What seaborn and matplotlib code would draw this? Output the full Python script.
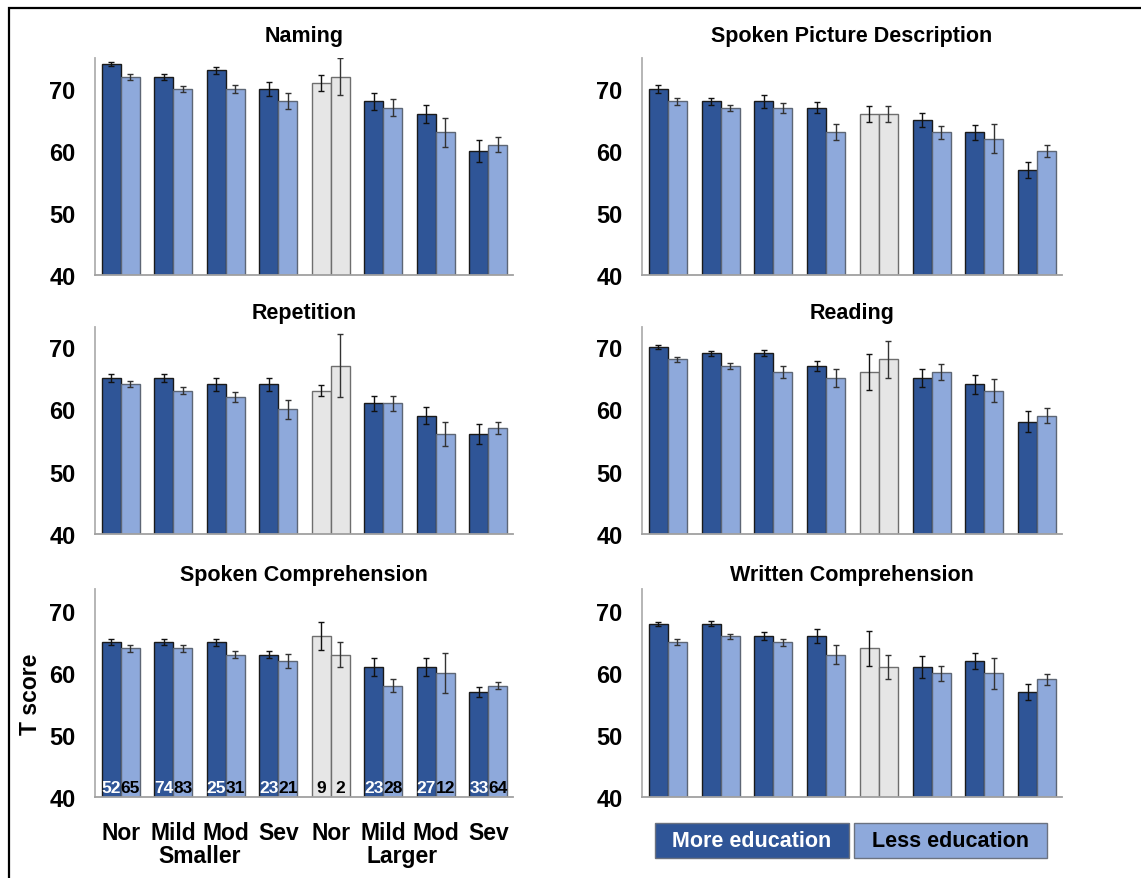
import numpy as np
import pandas as pd
import matplotlib
matplotlib.use("Agg")
import matplotlib.pyplot as plt
from matplotlib.patches import Rectangle
import matplotlib.transforms as mtransforms
import seaborn as sns

# ---- data -------------------------------------------------------------
severity = ["Nor", "Mild", "Mod", "Sev"]
lesion_size = ["Smaller", "Larger"]
education = ["More education", "Less education"]

n_more = [52, 74, 25, 23, 9, 23, 27, 33]
n_less = [65, 83, 31, 21, 2, 28, 12, 64]

naming_more = [74, 72, 73, 70, 71, 68, 66, 60]
naming_less = [72, 70, 70, 68, 72, 67, 63, 61]
naming_more_se = [0.3, 0.5, 0.5, 1.1, 1.3, 1.4, 1.5, 1.7]
naming_less_se = [0.5, 0.5, 0.6, 1.3, 3.0, 1.4, 2.3, 1.2]

spd_more = [70, 68, 68, 67, 66, 65, 63, 57]
spd_less = [68, 67, 67, 63, 66, 63, 62, 60]
spd_more_se = [0.6, 0.6, 1.1, 0.9, 1.3, 1.2, 1.2, 1.3]
spd_less_se = [0.5, 0.5, 0.8, 1.3, 1.3, 1.1, 2.4, 1.0]

rep_more = [65, 65, 64, 64, 63, 61, 59, 56]
rep_less = [64, 63, 62, 60, 67, 61, 56, 57]
rep_more_se = [0.6, 0.6, 1.1, 1.1, 0.9, 1.2, 1.3, 1.6]
rep_less_se = [0.5, 0.5, 0.8, 1.5, 5.0, 1.2, 1.9, 1.0]

read_more = [70, 69, 69, 67, 66, 65, 64, 58]
read_less = [68, 67, 66, 65, 68, 66, 63, 59]
read_more_se = [0.3, 0.4, 0.5, 0.8, 2.9, 1.5, 1.5, 1.7]
read_less_se = [0.4, 0.5, 0.9, 1.5, 3.0, 1.3, 1.8, 1.2]

sc_more = [65, 65, 65, 63, 66, 61, 61, 57]
sc_less = [64, 64, 63, 62, 63, 58, 60, 58]
sc_more_se = [0.5, 0.5, 0.6, 0.6, 2.2, 1.4, 1.5, 0.8]
sc_less_se = [0.5, 0.5, 0.6, 1.1, 2.0, 1.0, 3.2, 0.6]

wc_more = [68, 68, 66, 66, 64, 61, 62, 57]
wc_less = [65, 66, 65, 63, 61, 60, 60, 59]
wc_more_se = [0.3, 0.4, 0.6, 1.1, 2.8, 1.7, 1.3, 1.3]
wc_less_se = [0.5, 0.4, 0.6, 1.5, 2.0, 1.2, 2.5, 0.9]

panels = [
    ("Naming", naming_more, naming_less, naming_more_se, naming_less_se),
    ("Spoken Picture Description", spd_more, spd_less, spd_more_se, spd_less_se),
    ("Repetition", rep_more, rep_less, rep_more_se, rep_less_se),
    ("Reading", read_more, read_less, read_more_se, read_less_se),
    ("Spoken Comprehension", sc_more, sc_less, sc_more_se, sc_less_se),
    ("Written Comprehension", wc_more, wc_less, wc_more_se, wc_less_se),
]

# ---- style ------------------------------------------------------------
DARK = "#2F5597"
LIGHT = "#8EA9DB"
GREY = "#E6E6E6"
sns.set_style("white")
plt.rcParams["font.family"] = ["Liberation Sans", "DejaVu Sans"]
plt.rcParams["font.weight"] = "bold"
for key in ["text.color", "axes.labelcolor", "xtick.color", "ytick.color",
            "axes.titlecolor"]:
    plt.rcParams[key] = "black"

groups = [f"{s} {v}" for s in lesion_size for v in severity]
tick_names = [v for s in lesion_size for v in severity]
control_idx = groups.index("Larger Nor")

fig = plt.figure(figsize=(11.41, 8.79), dpi=100)

W, H = 1141, 879
col_x = [(95, 513), (642, 1062)]
row_y = [(59, 276), (328, 535), (590, 798)]
row_top = [75, 73.2, 73.6]
title_pad = [12, 6.5, 6.5]

for i, (title, more, less, more_se, less_se) in enumerate(panels):
    r, c = divmod(i, 2)
    x0, x1 = col_x[c]
    y0, y1 = row_y[r]
    ax = fig.add_axes([x0 / W, 1 - y1 / H, (x1 - x0) / W, (y1 - y0) / H])

    df = pd.DataFrame({
        "group": groups * 2,
        "education": [education[0]] * 8 + [education[1]] * 8,
        "score": list(more) + list(less),
    })
    sns.barplot(data=df, x="group", y="score", hue="education",
                order=groups, hue_order=education,
                palette=[DARK, LIGHT], width=0.72, gap=0,
                errorbar=None, legend=False, ax=ax,
                edgecolor="#1a1a1a", linewidth=1.0, saturation=1)

    edge_cols = ["#1a1a1a", "#5d6675"]
    err_cols = ["#111111", "#333333"]
    for k, (cont, se) in enumerate(zip(ax.containers, [more_se, less_se])):
        xs, ys = [], []
        for j, p in enumerate(cont.patches):
            p.set_edgecolor(edge_cols[k])
            if j == control_idx:
                p.set_facecolor(GREY)
                p.set_edgecolor("#6e6e6e")
            xs.append(p.get_x() + p.get_width() / 2)
            ys.append(p.get_height())
        ax.errorbar(xs, ys, yerr=se, fmt="none", ecolor=err_cols[k],
                    elinewidth=1.0, capsize=2, capthick=1.0, zorder=5)

    ax.set_ylim(40, row_top[r])
    ax.set_xlim(-0.49, 7.47)
    ax.set_yticks([40, 50, 60, 70])
    ax.tick_params(axis="y", length=0, pad=14, labelsize=17)
    ax.set_title(title, fontsize=15.5, fontweight="bold", pad=title_pad[r])
    ax.set_xlabel("")
    ax.set_ylabel("")
    for side in ["top", "right"]:
        ax.spines[side].set_visible(False)
    ax.spines["left"].set_color("#b0b0b0")
    ax.spines["bottom"].set_color("#a0a0a0")
    ax.spines["left"].set_linewidth(1.3)
    ax.spines["bottom"].set_linewidth(1.3)

    if i == 4:
        ax.set_xticks(range(len(groups)))
        ax.set_xticklabels(tick_names, fontsize=16.5, fontweight="bold")
        ax.tick_params(axis="x", length=0, pad=17)
        ax.set_ylabel("T score", fontsize=16.5, fontweight="bold", labelpad=5)
        trans = mtransforms.blended_transform_factory(ax.transData, ax.transAxes)
        ax.text(1.5, -0.225, lesion_size[0], transform=trans, ha="center",
                va="top", fontsize=16.5, fontweight="bold")
        ax.text(5.35, -0.225, lesion_size[1], transform=trans, ha="center",
                va="top", fontsize=16.5, fontweight="bold")
        # group sizes written at the foot of each bar
        for k, (cont, ns) in enumerate(zip(ax.containers, [n_more, n_less])):
            for j, (p, n) in enumerate(zip(cont.patches, ns)):
                color = "white" if (k == 0 and j != control_idx) else "black"
                ax.text(p.get_x() + p.get_width() / 2, 40.4, str(n),
                        ha="center", va="bottom", fontsize=12.5,
                        fontweight="bold", color=color, zorder=6)
    else:
        ax.set_xticks([])

# legend boxes
leg = [(655, 849, DARK, "white", education[0]),
       (854, 1047, LIGHT, "black", education[1])]
for lx0, lx1, fc, tc, label in leg:
    fig.add_artist(Rectangle((lx0 / W, 1 - 859 / H), (lx1 - lx0) / W, 35 / H,
                             transform=fig.transFigure, facecolor=fc,
                             edgecolor="#6b7280", linewidth=1.0))
    fig.text((lx0 + lx1) / 2 / W, 1 - 842 / H, label, ha="center", va="center",
             fontsize=15.5, fontweight="bold", color=tc)

# outer frame
fig.add_artist(Rectangle((9 / W, -0.1), 1.2, 1 - 9 / H + 0.1,
                         transform=fig.transFigure, fill=False,
                         edgecolor="black", linewidth=1.6, clip_on=False))

fig.savefig("out.png", dpi=100)
